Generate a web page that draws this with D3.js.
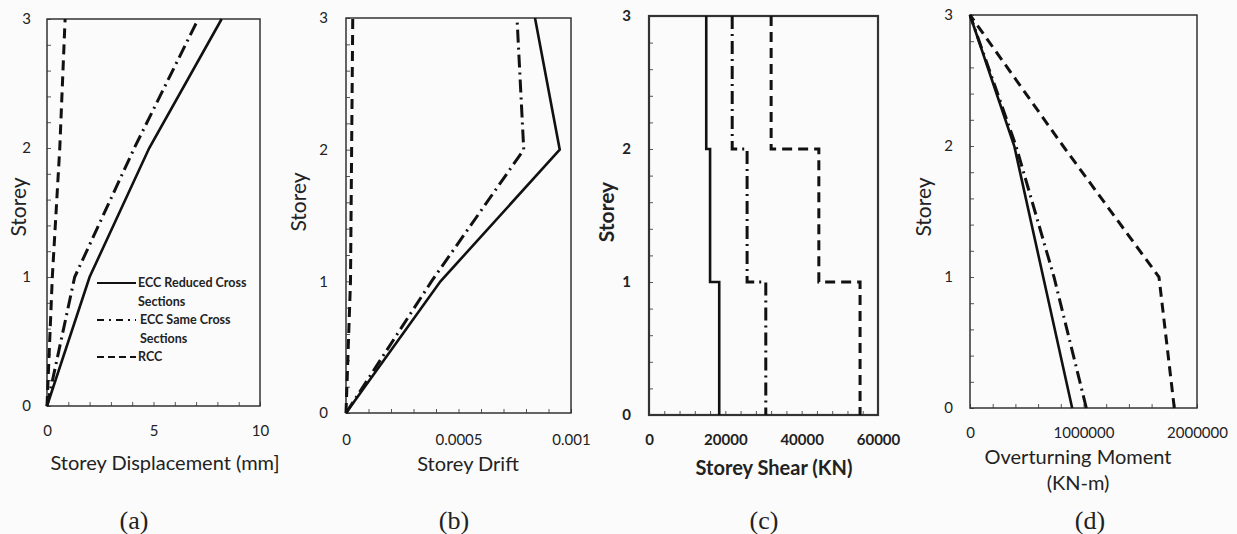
<!DOCTYPE html>
<html>
<head>
<meta charset="utf-8">
<script src="https://cdn.jsdelivr.net/npm/d3@7"></script>
<style>
  html, body { margin: 0; padding: 0; background: #fbfbfb; }
  svg { display: block; }
  text { font-family: Lato, "Open Sans", sans-serif; fill: #222; }
</style>
</head>
<body>
<svg id="chart" width="1237" height="534"></svg>
<script>
// ---------- DATA ----------
const storeys = [0, 1, 2, 3];
const storeyTicks = [0, 1, 2, 3];
const seriesNames = ["ECC Reduced Cross Sections", "ECC Same Cross Sections", "RCC"];

// (a) Storey displacement (mm), index = storey
const dispReduced = [0, 2.0, 4.8, 8.2];
const dispSame    = [0, 1.3, 4.1, 7.1];
const dispRCC     = [0, 0.25, 0.6, 0.85];
const dispTicks   = [0, 5, 10];

// (b) Storey drift, index = storey
const driftReduced = [0, 0.00042, 0.00095, 0.00084];
const driftSame    = [0, 0.00038, 0.00079, 0.00076];
const driftRCC     = [0, 0.00002, 0.000025, 0.00003];
const driftTicks   = [0, 0.0005, 0.001];
const driftTickLabels = ["0", "0.0005", "0.001"];

// (c) Storey shear (KN), index = storey segment (0-1, 1-2, 2-3)
const shearReduced = [18400, 16000, 15000];
const shearSame    = [30600, 25700, 21800];
const shearRCC     = [55300, 44500, 32000];
const shearTicks   = [0, 20000, 40000, 60000];

// (d) Overturning moment (KN-m), index = storey
const momentReduced = [900000, 645000, 390000, 0];
const momentSame    = [1025000, 740000, 405000, 0];
const momentRCC     = [1800000, 1665000, 820000, 0];
const momentTicks   = [0, 1000000, 2000000];

const panelLetters = ["(a)", "(b)", "(c)", "(d)"];

// ---------- STYLES ----------
const styles = [
  { dash: null, width: 2.6 },
  { dash: "13,5,2,5", width: 3 },
  { dash: "10,6", width: 3 }
];

const svg = d3.select("#chart");

function profile(vals) { return storeys.map((s, i) => ({ x: vals[i], y: s })); }
function stepProfile(vals) {
  const pts = [];
  for (let i = vals.length - 1; i >= 0; i--) {
    pts.push({ x: vals[i], y: i + 1 });
    pts.push({ x: vals[i], y: i });
  }
  return pts;
}

function drawPanel(cfg) {
  const g = svg.append("g");
  const x = d3.scaleLinear().domain(cfg.xDomain).range([cfg.left, cfg.right]);
  const y = d3.scaleLinear().domain([0, 3]).range([cfg.bottom, cfg.top]);
  const bold = cfg.bold ? "700" : "400";

  // minor ticks (inside)
  const xMinor = d3.range(cfg.xDomain[0], cfg.xDomain[1] + cfg.xMinor / 2, cfg.xMinor);
  g.append("g").attr("transform", `translate(0,${cfg.bottom})`)
    .call(d3.axisBottom(x).tickValues(xMinor).tickSize(-4).tickFormat(""))
    .call(a => a.select(".domain").remove())
    .call(a => a.selectAll("line").attr("stroke", "#555").attr("stroke-width", 1));
  const yMinor = d3.range(0, 3.0001, 0.2);
  g.append("g").attr("transform", `translate(${cfg.left},0)`)
    .call(d3.axisLeft(y).tickValues(yMinor).tickSize(-4).tickFormat(""))
    .call(a => a.select(".domain").remove())
    .call(a => a.selectAll("line").attr("stroke", "#555").attr("stroke-width", 1));

  // labels
  g.append("g").attr("transform", `translate(0,${cfg.bottom})`)
    .call(d3.axisBottom(x).tickValues(cfg.xTicks).tickSize(0).tickPadding(cfg.xPad)
      .tickFormat((d, i) => cfg.xLabels ? cfg.xLabels[i] : d3.format("d")(d)))
    .call(a => a.select(".domain").remove())
    .call(a => a.selectAll("text").attr("font-size", 15).attr("font-weight", bold)
      .attr("font-family", "Lato, sans-serif").attr("fill", "#222"));
  g.append("g").attr("transform", `translate(${cfg.left},0)`)
    .call(d3.axisLeft(y).tickValues(storeyTicks).tickSize(0).tickPadding(cfg.yPad).tickFormat(d3.format("d")))
    .call(a => a.select(".domain").remove())
    .call(a => a.selectAll("text").attr("font-size", 15).attr("font-weight", bold)
      .attr("font-family", "Lato, sans-serif").attr("fill", "#222"));

  // frame
  g.append("rect").attr("x", cfg.left).attr("y", cfg.top)
    .attr("width", cfg.right - cfg.left).attr("height", cfg.bottom - cfg.top)
    .attr("fill", "none").attr("stroke", "#333").attr("stroke-width", cfg.frameW);

  // series
  const line = d3.line().x(d => x(d.x)).y(d => y(d.y));
  cfg.series.forEach((pts, i) => {
    g.append("path").attr("d", line(pts)).attr("fill", "none")
      .attr("stroke", "#111").attr("stroke-width", styles[i].width)
      .attr("stroke-dasharray", styles[i].dash)
      .attr("stroke-linejoin", "miter");
  });

  // axis titles
  cfg.xTitle.forEach((t, i) => {
    g.append("text").attr("x", cfg.xTitleX).attr("y", cfg.xTitleY + i * 26)
      .attr("text-anchor", "middle").attr("font-size", 20).attr("font-weight", bold).text(t);
  });
  g.append("text").attr("transform", `translate(${cfg.yTitleX},${cfg.yTitleY}) rotate(-90)`)
    .attr("text-anchor", "middle").attr("font-size", 21).attr("font-weight", bold).text("Storey");

  // panel letter
  g.append("text").attr("x", cfg.letterX).attr("y", 529)
    .attr("text-anchor", "middle").attr("font-size", 26)
    .style("font-family", "'Liberation Serif', 'DejaVu Serif', serif").text(cfg.letter);
  return { g, x, y };
}

// (a)
const pa = drawPanel({
  left: 47, right: 260, top: 19, bottom: 406, frameW: 1.5,
  xDomain: [0, 10], xTicks: dispTicks, xMinor: 1, xPad: 19, yPad: 16,
  series: [profile(dispReduced), profile(dispSame), profile(dispRCC)],
  xTitle: ["Storey Displacement (mm]"], xTitleX: 165, xTitleY: 470,
  yTitleX: 26, yTitleY: 207, letter: panelLetters[0], letterX: 134
});

// (b)
drawPanel({
  left: 346, right: 571, top: 18, bottom: 413, frameW: 1.5,
  xDomain: [0, 0.001], xTicks: driftTicks, xLabels: driftTickLabels, xMinor: 0.0001, xPad: 21, yPad: 18,
  series: [profile(driftReduced), profile(driftSame), profile(driftRCC)],
  xTitle: ["Storey Drift"], xTitleX: 468, xTitleY: 471,
  yTitleX: 306, yTitleY: 202, letter: panelLetters[1], letterX: 454
});

// (c)
drawPanel({
  left: 649, right: 878, top: 16, bottom: 415, frameW: 2.2, bold: true,
  xDomain: [0, 60000], xTicks: shearTicks, xMinor: 4000, xPad: 19, yPad: 18,
  series: [stepProfile(shearReduced), stepProfile(shearSame), stepProfile(shearRCC)],
  xTitle: ["Storey Shear (KN)"], xTitleX: 774, xTitleY: 475,
  yTitleX: 614, yTitleY: 212, letter: panelLetters[2], letterX: 764
});

// (d)
drawPanel({
  left: 970, right: 1197, top: 15, bottom: 408, frameW: 1.5,
  xDomain: [0, 2000000], xTicks: momentTicks, xMinor: 200000, xPad: 19, yPad: 17,
  series: [profile(momentReduced), profile(momentSame), profile(momentRCC)],
  xTitle: ["Overturning Moment", "(KN-m)"], xTitleX: 1078, xTitleY: 464,
  yTitleX: 931, yTitleY: 207, letter: panelLetters[3], letterX: 1090
});

// legend in panel (a)
const leg = pa.g.append("g");
const legRows = [
  { lines: ["ECC Reduced Cross", "Sections"], y: 283 },
  { lines: ["ECC Same Cross", "Sections"], y: 320 },
  { lines: ["RCC"], y: 357 }
];
legRows.forEach((r, i) => {
  leg.append("line").attr("x1", 97).attr("x2", 136).attr("y1", r.y).attr("y2", r.y)
    .attr("stroke", "#111").attr("stroke-width", 2.2)
    .attr("stroke-dasharray", i === 0 ? null : (i === 1 ? "7,5,2,5" : "7,4"));
  r.lines.forEach((t, j) => {
    leg.append("text").attr("x", i === 1 ? 140 : 138).attr("y", r.y + 4 + j * 19)
      .attr("font-size", 12.5).attr("font-weight", "700").text(t);
  });
});
</script>
</body>
</html>
